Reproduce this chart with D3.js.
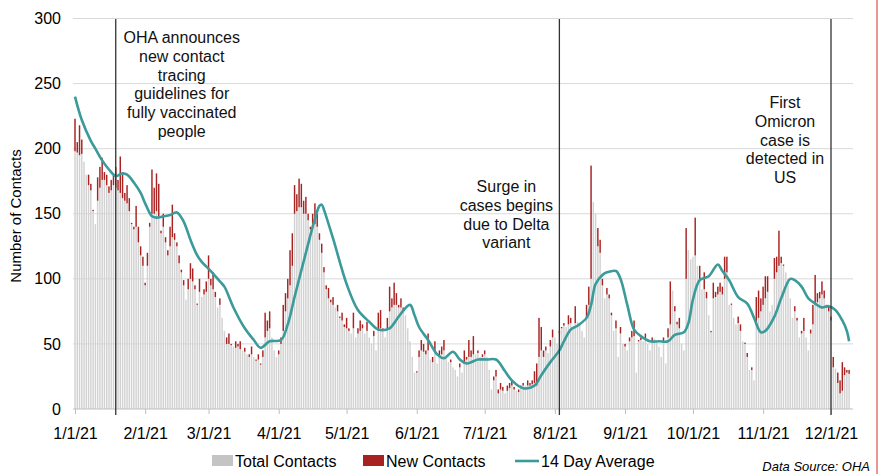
<!DOCTYPE html>
<html>
<head>
<meta charset="utf-8">
<script src="https://cdn.jsdelivr.net/npm/d3@7"></script>
<style>
  body { margin: 0; background: #fff; }
  svg { display: block; font-family: "Liberation Sans", Arial, sans-serif; }
</style>
</head>
<body>
<div id="chart"></div>
<script>
// daily values, 1/1/21 .. 12/9/21 (one row per month)
const startDate = '2021-01-01';
const totalContacts = [
  198,197,195,196,190,180,172,168,152,142,160,170,176,176,172,166,168,172,170,168,166,162,160,158,152,142,138,140,128,118,110,
  95,110,140,150,150,152,148,135,140,128,118,125,132,130,125,112,105,95,84,92,100,98,92,80,90,86,88,90,
  100,95,92,86,78,80,70,60,50,50,49,48,47,48,46,45,44,42,40,42,40,37,38,34,40,55,60,62,55,45,40,
  42,50,60,75,85,95,110,150,152,155,155,150,150,145,138,140,142,140,130,120,105,92,85,82,80,78,75,70,68,63,
  62,60,58,62,55,58,60,62,58,60,55,50,56,45,60,62,60,55,62,75,78,80,80,78,78,76,72,62,52,40,28,
  28,40,45,44,42,45,38,36,44,35,40,42,45,40,36,36,32,30,25,32,28,35,38,40,40,42,42,43,40,40,
  42,40,30,15,22,25,12,15,14,12,14,16,18,15,14,13,16,18,18,18,18,19,20,18,40,45,40,45,43,48,55,
  55,50,58,62,64,63,65,66,62,66,67,65,60,55,70,80,100,159,150,125,120,95,85,88,85,72,60,62,40,58,50,
  48,45,52,55,56,28,52,53,52,54,50,45,52,54,52,48,40,52,35,55,65,91,75,65,62,50,45,100,122,115,
  117,118,110,100,92,92,85,72,59,85,86,88,90,88,100,105,80,80,70,65,66,60,52,50,40,30,30,22,65,70,75,
  80,85,90,75,80,100,105,110,112,110,105,100,85,70,75,68,55,58,60,55,45,58,65,80,82,85,88,85,78,75,
  68,32,31,20,12,14,26,28,27
];
const newContacts = [
  223,205,218,207,186,176,180,173,153,140,178,186,193,182,180,171,176,180,186,176,194,180,166,172,162,143,140,156,140,125,117,
  97,120,143,184,170,181,173,137,150,132,122,140,157,135,128,118,107,99,84,100,112,108,95,81,100,86,92,98,
  118,100,105,90,77,85,66,58,55,58,50,43,52,50,52,45,47,40,42,48,40,38,42,35,45,74,68,75,55,40,35,
  45,55,80,89,100,122,135,172,165,177,173,160,163,150,140,150,158,150,135,127,109,95,93,84,86,78,80,71,74,65,
  70,62,58,74,48,62,68,65,55,67,52,48,60,40,74,76,62,53,70,94,85,97,89,80,85,78,71,60,51,35,25,
  29,45,53,50,45,58,38,40,52,32,45,48,53,40,35,38,30,28,17,35,20,45,40,53,45,56,40,45,38,42,
  45,35,28,13,25,30,15,20,17,12,18,20,22,17,14,15,18,20,17,22,20,22,29,35,70,63,45,48,40,53,61,
  55,48,60,63,66,60,72,70,58,79,65,62,50,47,80,94,187,150,140,139,130,100,79,93,88,74,55,68,38,63,45,
  50,41,55,60,68,25,53,55,50,58,48,40,55,52,50,45,35,55,30,62,98,80,79,67,70,47,43,139,121,110,
  100,147,104,110,88,105,90,68,60,97,90,94,97,94,117,117,74,81,68,63,71,65,51,51,43,30,32,17,86,91,85,
  94,102,102,71,80,116,117,137,117,111,100,95,80,65,79,70,48,60,70,55,41,61,80,103,89,90,98,91,80,79,
  71,40,31,28,22,36,32,30,30
];

// 14 day average
const avgDates = [
  '2021-01-01','2021-01-04','2021-01-08','2021-01-10','2021-01-13','2021-01-16','2021-01-19','2021-01-22','2021-01-24','2021-01-27','2021-01-30',
  '2021-02-01','2021-02-04','2021-02-06','2021-02-09','2021-02-12','2021-02-15','2021-02-18','2021-02-21','2021-02-24','2021-02-26',
  '2021-03-02','2021-03-06','2021-03-08','2021-03-12','2021-03-17','2021-03-21','2021-03-24','2021-03-28',
  '2021-04-02','2021-04-05','2021-04-08','2021-04-13','2021-04-17','2021-04-19','2021-04-20','2021-04-21','2021-04-25',
  '2021-05-01','2021-05-06','2021-05-11','2021-05-15','2021-05-20','2021-05-22','2021-05-24','2021-05-29','2021-05-31',
  '2021-06-02','2021-06-06','2021-06-10','2021-06-13','2021-06-17','2021-06-20','2021-06-23','2021-06-28',
  '2021-07-02','2021-07-06','2021-07-10','2021-07-13','2021-07-18','2021-07-23','2021-07-26','2021-07-30',
  '2021-08-03','2021-08-05','2021-08-08','2021-08-11','2021-08-15','2021-08-17','2021-08-19','2021-08-22','2021-08-24','2021-08-28','2021-08-30',
  '2021-09-02','2021-09-05','2021-09-08','2021-09-12','2021-09-16','2021-09-20','2021-09-23','2021-09-27','2021-09-29',
  '2021-10-01','2021-10-04','2021-10-08','2021-10-12','2021-10-14','2021-10-17','2021-10-21','2021-10-25','2021-10-28','2021-10-31',
  '2021-11-02','2021-11-06','2021-11-09','2021-11-13','2021-11-15','2021-11-18','2021-11-21','2021-11-24','2021-11-27','2021-11-30',
  '2021-12-03','2021-12-06','2021-12-08','2021-12-09'
];
const avgValues = [
  240,222,206,200,191,184,179,181,180,174,166,
  158,148,147,148,149,151,144,130,118,113,
  106,98,94,78,62,53,47,52,
  53,65,86,120,146,156,157,153,131,
  96,76,67,61,62,66,71,80,72,
  63,53,42,39,44,38,35,38,
  38,38,29,22,16,18,26,36,
  45,52,61,64,70,80,96,103,105,106,100,
  80,61,56,52,52,52,57,59,66,
  84,99,102,111,106,99,86,81,70,59,
  60,71,85,100,99,94,85,81,78,79,
  76,68,60,52
];

const monthTicks = ['2021-01-01','2021-02-01','2021-03-01','2021-04-01','2021-05-01','2021-06-01',
  '2021-07-01','2021-08-01','2021-09-01','2021-10-01','2021-11-01','2021-12-01'];
const yTicks = [0, 50, 100, 150, 200, 250, 300];

const events = [
  {date: '2021-01-19', text: ['OHA announces', 'new contact', 'tracing', 'guidelines for', 'fully vaccinated', 'people']},
  {date: '2021-08-03', text: ['Surge in', 'cases begins', 'due to Delta', 'variant']},
  {date: '2021-12-01', text: ['First', 'Omicron', 'case is', 'detected in', 'US']}
];

const legendItems = ['Total Contacts', 'New Contacts', '14 Day Average'];

// colours
const grayColor = '#d2d2d2';
const redColor = '#a82222';
const tealColor = '#3b9a9a';

const width = 882;
const height = 474;
const parseDate = d3.timeParse('%Y-%m-%d');
const start = parseDate(startDate);

const svg = d3.select('#chart')
    .append('svg')
    .attr('width', width)
    .attr('height', height);

const x = d3.scaleTime()
    .domain([parseDate('2021-01-01'), parseDate('2021-12-01')])
    .range([75, 831]);
const y = d3.scaleLinear()
    .domain([0, 300])
    .range([409, 18.5]);

const data = totalContacts.map((t, i) => ({
  date: d3.timeDay.offset(start, i),
  total: t,
  fresh: newContacts[i],
}));

// grid
svg.append('g')
    .selectAll('line')
    .data(yTicks.filter((d) => d > 0))
    .join('line')
    .attr('x1', 73).attr('x2', 853)
    .attr('y1', (d) => y(d)).attr('y2', (d) => y(d))
    .attr('stroke', '#d9d9d9')
    .attr('stroke-width', 1);

// y axis labels
const yAxis = svg.append('g')
    .attr('transform', 'translate(61,0)')
    .call(d3.axisLeft(y).tickValues(yTicks).tickSize(0).tickPadding(0));
yAxis.select('.domain').remove();
yAxis.selectAll('text')
    .attr('font-size', 16)
    .attr('font-family', '"Liberation Sans", Arial, sans-serif')
    .attr('fill', '#000');

svg.append('text')
    .attr('transform', 'translate(21,216) rotate(-90)')
    .attr('text-anchor', 'middle')
    .attr('font-size', 15)
    .text('Number of Contacts');

// bars: total contacts in front, new contacts show only where they rise above it
const barW = 1.45;
svg.append('g')
    .selectAll('rect')
    .data(data)
    .join('rect')
    .attr('x', (d) => x(d.date) - barW / 2)
    .attr('width', barW)
    .attr('y', (d) => y(d.total))
    .attr('height', (d) => y(0) - y(d.total))
    .attr('fill', grayColor);

svg.append('g')
    .selectAll('rect')
    .data(data.filter((d) => d.fresh > d.total))
    .join('rect')
    .attr('x', (d) => x(d.date) - barW / 2)
    .attr('width', barW)
    .attr('y', (d) => y(d.fresh))
    .attr('height', (d) => y(d.total) - y(d.fresh))
    .attr('fill', redColor);

// x axis
svg.append('line')
    .attr('x1', 73).attr('x2', 853)
    .attr('y1', y(0)).attr('y2', y(0))
    .attr('stroke', '#bfbfbf');

const xAxis = svg.append('g')
    .attr('transform', 'translate(0,' + y(0) + ')')
    .call(d3.axisBottom(x)
        .tickValues(monthTicks.map(parseDate))
        .tickFormat(d3.timeFormat('%-m/%-d/%y'))
        .tickSize(5));
xAxis.select('.domain').remove();
xAxis.selectAll('.tick line').attr('stroke', '#bfbfbf');
xAxis.selectAll('text')
    .attr('y', 30)
    .attr('dy', 0)
    .attr('font-size', 16)
    .attr('font-family', '"Liberation Sans", Arial, sans-serif')
    .attr('fill', '#000');

// 14 day average
const avgData = avgDates.map((d, i) => ({date: parseDate(d), value: avgValues[i]}));
svg.append('path')
    .datum(avgData)
    .attr('fill', 'none')
    .attr('stroke', tealColor)
    .attr('stroke-width', 2.6)
    .attr('stroke-linejoin', 'round')
    .attr('d', d3.line()
        .curve(d3.curveCatmullRom.alpha(0.5))
        .x((d) => x(d.date))
        .y((d) => y(d.value)));

// event markers
const textOffsets = [{dx: 66, y: 43}, {dx: -53, y: 192}, {dx: -46, y: 108}];
events.forEach((ev, i) => {
  const ex = x(parseDate(ev.date));
  svg.append('line')
      .attr('x1', ex).attr('x2', ex)
      .attr('y1', 19).attr('y2', 415)
      .attr('stroke', '#333')
      .attr('stroke-width', 1.3);
  svg.append('text')
      .attr('text-anchor', 'middle')
      .attr('font-size', 16)
      .attr('fill', '#111')
      .selectAll('tspan')
      .data(ev.text)
      .join('tspan')
      .attr('x', ex + textOffsets[i].dx)
      .attr('y', (d, j) => textOffsets[i].y + j * 18.8)
      .text((d) => d);
});

// legend
const legend = svg.append('g').attr('font-size', 16);
legend.append('rect').attr('x', 212).attr('y', 455).attr('width', 21).attr('height', 11).attr('fill', '#c4c4c4');
legend.append('text').attr('x', 235).attr('y', 467).text(legendItems[0]);
legend.append('rect').attr('x', 363).attr('y', 455).attr('width', 21).attr('height', 11).attr('fill', redColor);
legend.append('text').attr('x', 386).attr('y', 467).text(legendItems[1]);
legend.append('line').attr('x1', 515).attr('x2', 539).attr('y1', 461).attr('y2', 461)
    .attr('stroke', tealColor).attr('stroke-width', 2.6);
legend.append('text').attr('x', 541).attr('y', 467).text(legendItems[2]);

svg.append('text')
    .attr('x', 870).attr('y', 471)
    .attr('text-anchor', 'end')
    .attr('font-size', 13)
    .attr('font-style', 'italic')
    .text('Data Source: OHA');

// frame edge on the right
svg.append('line')
    .attr('x1', 877).attr('x2', 877)
    .attr('y1', 0).attr('y2', height)
    .attr('stroke', '#d9534f')
    .attr('stroke-width', 1.2);
</script>
</body>
</html>
